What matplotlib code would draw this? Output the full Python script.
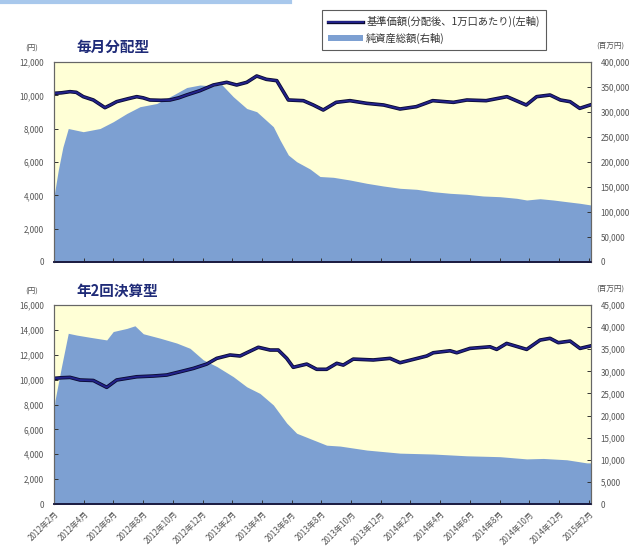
import matplotlib
matplotlib.use("Agg")
import matplotlib.pyplot as plt
import matplotlib.patheffects as pe
from matplotlib.ticker import FuncFormatter, MultipleLocator
from matplotlib.lines import Line2D
from matplotlib.patches import Patch

plt.rcParams['font.family'] = ['Noto Sans CJK JP', 'DejaVu Sans']

# ---- data (x = months since 2012年2月) ----
xtick_labels = ['2012年2月', '2012年4月', '2012年6月', '2012年8月', '2012年10月', '2012年12月',
                '2013年2月', '2013年4月', '2013年6月', '2013年8月', '2013年10月', '2013年12月',
                '2014年2月', '2014年4月', '2014年6月', '2014年8月', '2014年10月', '2014年12月',
                '2015年2月']

# 毎月分配型: 基準価額 (左軸, 円)
m_nav_x = [0.0, 0.5, 1.08, 1.5, 1.97, 2.65, 3.43, 3.8, 4.22, 5.0, 5.57, 6.0, 6.46, 7.2, 7.81,
           8.4, 8.93, 9.83, 10.73, 11.63, 12.3, 12.98, 13.65, 14.3, 15.0, 15.78, 16.79, 17.46,
           18.13, 19.0, 19.93, 21.06, 22.2, 23.3, 24.4, 25.5, 26.9, 27.8, 29.1, 30.5, 31.8,
           32.5, 33.4, 34.1, 34.75, 35.4, 36.1]
m_nav_y = [10120, 10150, 10220, 10180, 9920, 9720, 9260, 9420, 9620, 9800, 9920, 9850, 9720,
           9700, 9720, 9850, 10020, 10280, 10620, 10780, 10620, 10780, 11160, 10960, 10880,
           9720, 9680, 9420, 9120, 9580, 9680, 9520, 9420, 9180, 9320, 9680, 9580, 9720, 9680,
           9920, 9420, 9920, 10020, 9720, 9620, 9220, 9420]

# 毎月分配型: 純資産総額 (右軸, 百万円)
m_aum_x = [0.0, 0.07, 0.29, 0.6, 0.96, 1.97, 3.1, 3.99, 4.9, 5.79, 6.92, 8.03, 8.94, 9.83,
           10.73, 11.29, 12.07, 12.98, 13.65, 14.77, 15.22, 15.78, 16.34, 17.24, 17.91, 18.81,
           19.93, 21.06, 22.18, 23.3, 24.42, 25.54, 26.67, 27.79, 28.91, 30.03, 31.16, 31.83,
           32.73, 33.62, 34.53, 35.42, 36.16]
m_aum_y = [130000, 144000, 184000, 230000, 267000, 260600, 267000, 280600, 297000, 310600,
           317000, 334000, 349000, 354000, 352000, 355000, 330600, 307000, 300600, 270600,
           244000, 214000, 200600, 186000, 171000, 169400, 164000, 157400, 152000, 147400,
           145400, 140600, 137400, 135400, 132000, 130600, 127400, 124000, 126600, 124000,
           120600, 117400, 114000]

# 年2回決算型: 基準価額 (左軸, 円)
s_nav_x = [0.0, 0.5, 1.08, 1.75, 2.65, 3.55, 4.22, 5.57, 6.69, 7.59, 8.48, 9.38, 10.28, 10.96,
           11.85, 12.53, 12.98, 13.76, 14.55, 15.1, 15.67, 16.11, 17.02, 17.69, 18.36, 19.04,
           19.48, 20.15, 21.5, 22.63, 23.3, 24.2, 25.1, 25.54, 26.67, 27.12, 28.01, 29.36,
           29.81, 30.48, 31.83, 32.73, 33.4, 33.96, 34.75, 35.42, 36.1]
s_nav_y = [10100, 10150, 10180, 9970, 9930, 9380, 9970, 10230, 10290, 10370, 10630, 10900,
           11250, 11710, 11980, 11900, 12160, 12600, 12380, 12380, 11710, 10990, 11250, 10830,
           10830, 11310, 11170, 11650, 11580, 11710, 11360, 11630, 11900, 12160, 12320, 12160,
           12510, 12640, 12430, 12910, 12430, 13180, 13320, 12970, 13100, 12510, 12700]

# 年2回決算型: 純資産総額 (右軸, 百万円)
s_aum_x = [0.0, 0.07, 0.5, 0.96, 1.53, 2.42, 3.55, 3.99, 4.9, 5.45, 6.01, 7.14, 8.26, 9.16,
           10.05, 10.96, 12.07, 12.98, 13.87, 14.77, 15.67, 16.34, 17.46, 18.36, 19.26, 21.06,
           23.3, 25.54, 27.79, 30.03, 31.83, 32.95, 34.53, 35.87, 36.16]
s_aum_y = [21000, 23500, 31000, 38600, 38200, 37700, 37100, 39000, 39700, 40300, 38500, 37500,
           36400, 35200, 32600, 31100, 28800, 26500, 25000, 22400, 18300, 16000, 14500, 13300,
           13100, 12200, 11500, 11300, 10900, 10700, 10200, 10300, 10000, 9300, 9300]

# ---- styles ----
W, H = 643, 557
fig = plt.figure(figsize=(W / 100, H / 100), dpi=100)
fig.patch.set_facecolor('white')

BG = '#FFFFD6'
AREA = '#7DA0D2'
LINE = '#22228A'
TXT = '#555555'
TITLE = '#1F2B78'
XMAX = 36.16


def fmt(v, p):
    return f'{int(round(v)):,}'


def panel(rect, nav_x, nav_y, aum_x, aum_y, lmax, lstep, rmax, rstep, title, show_x):
    ax = fig.add_axes(rect)
    ax2 = ax.twinx()
    ax.set_zorder(ax2.get_zorder() + 1)
    ax.patch.set_visible(False)
    ax2.patch.set_visible(True)
    ax2.patch.set_facecolor(BG)

    ax2.fill_between(aum_x, aum_y, 0, color=AREA, lw=0)
    ax.plot(nav_x, nav_y, color=LINE, lw=1.4, solid_joinstyle='round',
            path_effects=[pe.Stroke(linewidth=2.6, foreground='#0A0A30'), pe.Normal()])

    ax.set_xlim(0, XMAX)
    ax.set_ylim(0, lmax)
    ax2.set_ylim(0, rmax)
    ax.yaxis.set_major_locator(MultipleLocator(lstep))
    ax2.yaxis.set_major_locator(MultipleLocator(rstep))
    ax.yaxis.set_major_formatter(FuncFormatter(fmt))
    ax2.yaxis.set_major_formatter(FuncFormatter(fmt))
    ax.set_xticks(range(0, 37, 2))
    if show_x:
        ax.set_xticklabels(xtick_labels, rotation=45, ha='right', va='top',
                           rotation_mode='anchor', fontsize=5.9, color=TXT)
    else:
        ax.set_xticklabels([])

    for a in (ax, ax2):
        a.tick_params(direction='in', length=3, width=0.7, colors='#333333',
                      labelsize=5.8, labelcolor=TXT, pad=7)
        for s in a.spines.values():
            s.set_color('#666666')
            s.set_linewidth(0.8)
        a.spines['bottom'].set_color('#1A1A40')
        a.spines['bottom'].set_linewidth(1.2)
    ax.tick_params(axis='x', pad=4)

    # titles and units
    x0, y0, w, h = rect
    ytop = y0 + h
    fig.text(x0 + 0.035, ytop + 0.012, title, fontsize=10.5, fontweight='bold',
             color=TITLE, ha='left', va='bottom')
    fig.text(x0 - 0.035, ytop + 0.016, '(円)', fontsize=5.5, color=TXT, ha='center', va='bottom')
    fig.text(x0 + w + 0.008, ytop + 0.022, '(百万円)', fontsize=5.5, color=TXT,
             ha='left', va='bottom')
    return ax, ax2


panel([54 / W, 1 - 262 / H, 537 / W, 200 / H], m_nav_x, m_nav_y, m_aum_x, m_aum_y,
      12000, 2000, 400000, 50000, '毎月分配型', False)
panel([54 / W, 1 - 504 / H, 537 / W, 199 / H], s_nav_x, s_nav_y, s_aum_x, s_aum_y,
      16000, 2000, 45000, 5000, '年2回決算型', True)

# header band remnant
fig.add_artist(Line2D([0, 290 / W], [1 - 1.5 / H, 1 - 1.5 / H], color='#A8C8EC', lw=3,
                      transform=fig.transFigure))

# legend
handles = [Line2D([], [], color=LINE, lw=1.4,
                  path_effects=[pe.Stroke(linewidth=2.4, foreground='#0A0A30'), pe.Normal()]),
           Patch(facecolor=AREA, edgecolor='none')]
labels = ['基準価額(分配後、1万口あたり)(左軸)', '純資産総額(右軸)']
leg = fig.legend(handles, labels, loc='upper left',
                 bbox_to_anchor=(322 / W, 1 - 10 / H), fontsize=7.4, frameon=True,
                 fancybox=False, edgecolor='#333333', handlelength=3.4,
                 handleheight=0.5, borderpad=0.6, labelspacing=0.5, handletextpad=0.3,
                 borderaxespad=0)
leg.get_frame().set_linewidth(0.8)
for t in leg.get_texts():
    t.set_color('#333333')

fig.savefig('out.png', dpi=100, facecolor='white')
